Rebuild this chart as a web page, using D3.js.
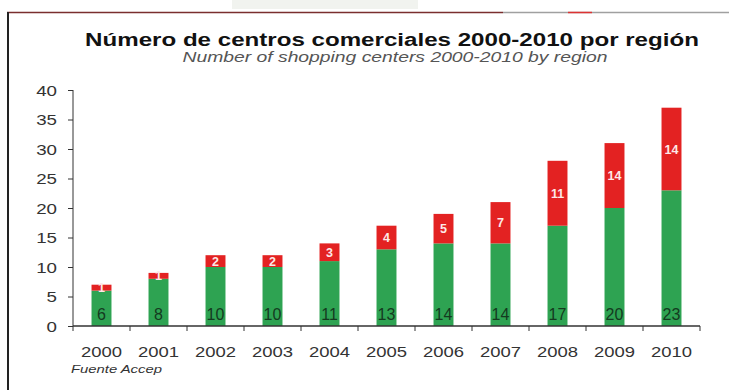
<!DOCTYPE html>
<html>
<head>
<meta charset="utf-8">
<title>Centros comerciales</title>
<script src="https://cdn.jsdelivr.net/npm/d3@7"></script>
<style>
    body { margin: 0; background: #fff; }
    text { font-family: 'Liberation Sans', Arial, sans-serif; }
</style>
</head>
<body>
<svg id="svg" width="729" height="390"></svg>
<script>
var years = ['2000','2001','2002','2003','2004','2005','2006','2007','2008','2009','2010'];
var green_vals = [6, 8, 10, 10, 11, 13, 14, 14, 17, 20, 23];
// bar heights as drawn (2009 is drawn shorter than its label says)
var red_vals = [1, 1, 2, 2, 3, 4, 5, 7, 11, 11, 14];
var red_labels = ['1', '1', '2', '2', '3', '4', '5', '7', '11', '14', '14'];
var y_ticks = [0, 5, 10, 15, 20, 25, 30, 35, 40];

var svg = d3.select('#svg');

// stretched text, the source picture is wider than tall
function wide_text(parent, x, y, sx, str, anchor){
    var t = parent.append('g').attr('transform', 'translate(' + x + ',' + y + ') scale(' + sx + ',1)')
        .append('text').attr('text-anchor', anchor || 'middle').text(str);
    return t;
}

// frame bits from the slide
svg.append('rect').attr('x', 232).attr('y', 0).attr('width', 186).attr('height', 9).attr('fill', '#f1f3ef');
svg.append('line').attr('x1', 7).attr('x2', 503).attr('y1', 12.5).attr('y2', 12.5)
    .attr('stroke', '#7a2e2e').attr('stroke-width', 1.5);
svg.append('line').attr('x1', 503).attr('x2', 729).attr('y1', 12.5).attr('y2', 12.5)
    .attr('stroke', '#a0a0a0').attr('stroke-width', 1.5);
svg.append('line').attr('x1', 568).attr('x2', 592).attr('y1', 12.5).attr('y2', 12.5)
    .attr('stroke', '#d33').attr('stroke-width', 1.5);
svg.append('line').attr('x1', 8).attr('x2', 8).attr('y1', 12).attr('y2', 390)
    .attr('stroke', '#222').attr('stroke-width', 2);

wide_text(svg, 392, 46, 1.27, 'Número de centros comerciales 2000-2010 por región')
    .style('font-size', '19px').style('font-weight', 'bold').attr('fill', '#111');
wide_text(svg, 395, 62, 1.38, 'Number of shopping centers 2000-2010 by region')
    .style('font-size', '14px').style('font-style', 'italic').attr('fill', '#555');

var x = d3.scaleBand().domain(years).range([73, 700]).paddingInner(0.65).paddingOuter(0.325);
var y = d3.scaleLinear().domain([0, 40]).range([326, 90]);

var data = years.map(function(yr, i){
    return {year: yr, green: green_vals[i], red: red_vals[i], label: red_labels[i]};
});

var g = svg.append('g');
g.selectAll('rect.green').data(data).enter().append('rect')
    .attr('class', 'green')
    .attr('x', function(d){ return x(d.year); })
    .attr('width', x.bandwidth())
    .attr('y', function(d){ return y(d.green); })
    .attr('height', function(d){ return y(0) - y(d.green); })
    .attr('fill', '#2ea352');
g.selectAll('rect.red').data(data).enter().append('rect')
    .attr('class', 'red')
    .attr('x', function(d){ return x(d.year); })
    .attr('width', x.bandwidth())
    .attr('y', function(d){ return y(d.green + d.red); })
    .attr('height', function(d){ return y(d.green) - y(d.green + d.red); })
    .attr('fill', '#e32222');

g.selectAll('text.gl').data(data).enter().append('text')
    .attr('class', 'gl')
    .attr('x', function(d){ return x(d.year) + x.bandwidth() / 2; })
    .attr('y', 320)
    .attr('text-anchor', 'middle')
    .style('font-size', '16px').attr('fill', '#143a1f')
    .text(function(d){ return d.green; });
g.selectAll('text.rl').data(data).enter().append('text')
    .attr('class', 'rl')
    .attr('x', function(d){ return x(d.year) + x.bandwidth() / 2; })
    .attr('y', function(d){ return y(d.green + d.red / 2) + 4.5; })
    .attr('text-anchor', 'middle')
    .style('font-size', '12.5px').style('font-weight', 'bold').attr('fill', '#fde8e8')
    .text(function(d){ return d.label; });

// y axis
var ya = svg.append('g');
ya.append('line').attr('x1', 73).attr('x2', 73).attr('y1', y(40)).attr('y2', y(0)).attr('stroke', '#333');
ya.selectAll('line.tk').data(y_ticks).enter().append('line')
    .attr('class', 'tk')
    .attr('x1', 68).attr('x2', 73)
    .attr('y1', function(d){ return y(d) + 0.5; }).attr('y2', function(d){ return y(d) + 0.5; })
    .attr('stroke', '#333');
y_ticks.forEach(function(v){
    wide_text(ya, 57, y(v) + 5.5, 1.25, v, 'end').style('font-size', '15px').attr('fill', '#333');
});

// x axis
var xa = svg.append('g').attr('transform', 'translate(0,326)');
xa.append('line').attr('x1', 73).attr('x2', 700).attr('stroke', '#333').attr('stroke-width', 1.5);
var bounds = years.map(function(yr){ return x(yr) - x.step() * x.paddingInner() / 2; }).concat([700]);
xa.selectAll('line.tk').data(bounds).enter().append('line')
    .attr('class', 'tk')
    .attr('x1', function(d){ return d; }).attr('x2', function(d){ return d; })
    .attr('y1', 0).attr('y2', 5).attr('stroke', '#333');
years.forEach(function(yr){
    wide_text(xa, x(yr) + x.bandwidth() / 2, 31, 1.23, yr).style('font-size', '15px').attr('fill', '#333');
});

wide_text(svg, 71, 373, 1.35, 'Fuente Accep', 'start')
    .style('font-size', '11px').style('font-style', 'italic').attr('fill', '#333');
</script>
</body>
</html>
